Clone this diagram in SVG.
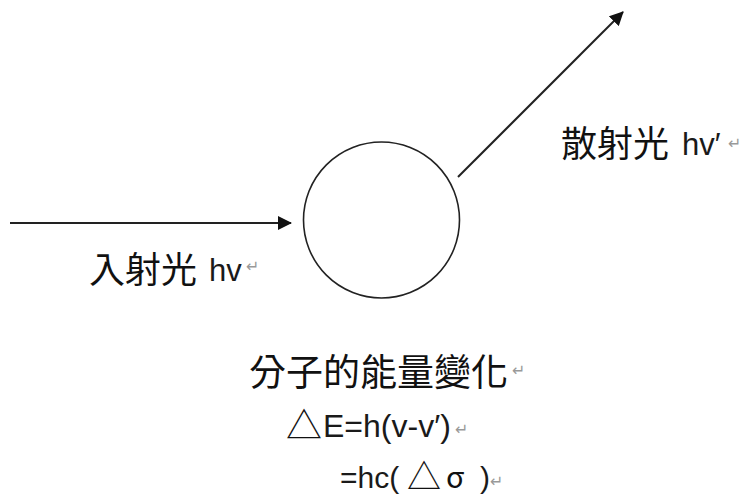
<svg xmlns="http://www.w3.org/2000/svg" width="748" height="501" viewBox="0 0 748 501">
<style>
.cjk{font-family:"Noto Sans CJK TC","Noto Sans CJK SC",sans-serif;font-size:36px;fill:#111}
.lat{font-family:"Liberation Sans","DejaVu Sans",sans-serif;font-size:31px;fill:#1a1a1a}
.ret{font-family:"DejaVu Sans",sans-serif;font-size:16px;fill:#999}
.ln{stroke:#222;stroke-width:2;fill:none}
</style>
<defs>
<marker id="ah" markerWidth="14" markerHeight="14" refX="13" refY="7" orient="auto" markerUnits="userSpaceOnUse">
<path d="M0,0 L14,7 L0,14 Z" fill="#111"/>
</marker>
</defs>
<g id="connectors">
<line class="ln" x1="10" y1="223" x2="291" y2="223" marker-end="url(#ah)"/>
<line class="ln" x1="458" y1="177" x2="623" y2="12" marker-end="url(#ah)"/>
</g>
<g id="molecule">
<circle cx="381.5" cy="220" r="78" fill="none" stroke="#222" stroke-width="1.6"/>
</g>
<g id="incident-label">
<text class="cjk" x="89" y="283">入射光</text>
<text class="lat" x="209" y="281">hv</text>
<text class="ret" x="246" y="272">↵</text>
</g>
<g id="scattered-label">
<text class="cjk" x="561" y="157">散射光</text>
<text class="lat" x="682" y="155">hv′</text>
<text class="ret" x="728" y="149">↵</text>
</g>
<g id="energy-label">
<text class="cjk" x="249" y="386" style="font-size:37px">分子的能量變化</text>
<text class="ret" x="512" y="376">↵</text>
<text class="cjk" x="286" y="439">△</text>
<text class="lat" x="323" y="437" style="font-size:32px">E=h(v-v′)</text>
<text class="ret" x="455" y="435">↵</text>
<text class="lat" x="340" y="488" style="font-size:30px">=hc(</text>
<text class="cjk" x="407" y="489" style="font-size:34px">△</text>
<text class="cjk" x="446" y="488" style="font-size:30px">σ</text>
<text class="lat" x="480" y="488" style="font-size:30px">)</text>
<text class="ret" x="490" y="487">↵</text>
</g>
</svg>
